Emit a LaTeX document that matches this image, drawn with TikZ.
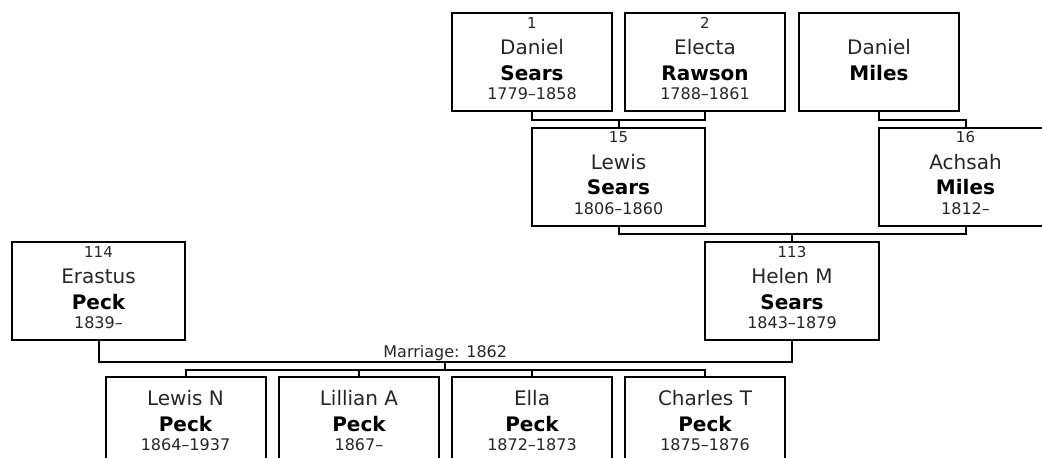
\documentclass[tikz,border=0pt]{standalone}
\usepackage{fontspec}
\setmainfont{DejaVu Sans}
\begin{document}
\begin{tikzpicture}[x=1pt, y=-1pt, line width=2pt,
    pbox/.style={draw, rectangle, inner sep=0pt, minimum height=98pt},
    numtxt/.style={anchor=base, inner sep=0pt, text=black!85, font=\fontsize{15}{17}\selectfont},
    given/.style={anchor=base, inner sep=0pt, text=black!85, font=\fontsize{20}{24}\selectfont},
    surname/.style={anchor=base, inner sep=0pt, font=\fontsize{20}{24}\selectfont\bfseries},
    years/.style={anchor=base, inner sep=0pt, text=black!85, font=\fontsize{16}{19}\selectfont}]
    \useasboundingbox (0,0) rectangle (1042,458);
    \clip (0,0) rectangle (1042,458);

    % ancestors
    \foreach \id/\x/\y/\w/\num/\first/\last/\yrs in {
        ds/532/62/160/1/Daniel/Sears/1779--1858,
        er/705/62/160/2/Electa/Rawson/1788--1861,
        dm/879/62/160/{}/Daniel/Miles/{},
        ls/618.5/176.5/173/15/Lewis/Sears/1806--1860,
        am/965.5/176.5/173/16/Achsah/Miles/1812--,
        hs/792/291/174/113/Helen M/Sears/1843--1879,
        ep/98.5/291/173/114/Erastus/Peck/1839--}
    {
        \node[pbox, minimum width=\w pt] (\id) at (\x,\y) {};
        \node[numtxt] at ([yshift=-16.3pt]\id.north) {\num};
        \node[given] at ([yshift=-42.5pt]\id.north) {\first};
        \node[surname] at ([yshift=-68.3pt]\id.north) {\last};
        \node[years] at ([yshift=-87.8pt]\id.north) {\yrs};
    }

    % children
    \foreach \id/\x/\first/\yrs in {
        ln/185.5/Lewis N/1864--1937,
        la/359/Lillian A/1867--,
        el/532/Ella/1872--1873,
        ct/705/Charles T/1875--1876}
    {
        \node[pbox, minimum width=160pt] (\id) at (\x,426) {};
        \node[given] at ([yshift=-29.2pt]\id.north) {\first};
        \node[surname] at ([yshift=-55.5pt]\id.north) {Peck};
        \node[years] at ([yshift=-74.5pt]\id.north) {\yrs};
    }

    \draw (ds.south) -- ++(0,8) coordinate (c1) -| (er.south);
    \draw (ls.north) -- (ls.north |- c1);
    \draw (dm.south) -- ++(0,8) -| (am.north);

    \draw (ls.south) -- ++(0,7) coordinate (c2) -| (am.south);
    \draw (hs.north) -- (hs.north |- c2);

    \draw (ep.south) -- ++(0,21) coordinate (mL) -- (mL -| hs.south)
        coordinate[midway] (mm)
        node[midway, anchor=base, yshift=4.5pt, inner sep=0pt, text=black!85,
            font=\fontsize{16}{19}\selectfont] (mar) {Marriage: 1862}
        -- (hs.south);

    \draw (mm) -- ++(0,8) coordinate (k);
    \draw (ln.north) -- (ln.north |- k) -- (ct.north |- k) -- (ct.north);
    \draw (la.north) -- (la.north |- k);
    \draw (el.north) -- (el.north |- k);
\end{tikzpicture}
\end{document}
